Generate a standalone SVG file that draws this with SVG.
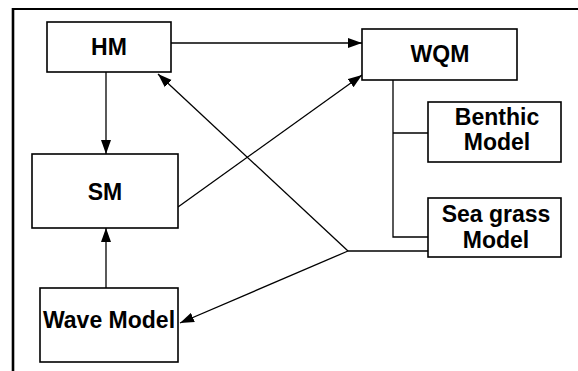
<svg xmlns="http://www.w3.org/2000/svg" width="578" height="371" viewBox="0 0 578 371">
<defs>
<style>
.box{fill:#fff;stroke:#000;stroke-width:1.6}
.lbl{font-family:"Liberation Sans",Arial,sans-serif;font-weight:bold;font-size:23px;fill:#000;text-anchor:middle}
.c{fill:none;stroke:#000;stroke-width:1.3}
.frame{fill:none;stroke:#000}
</style>
<marker id="ah" markerUnits="userSpaceOnUse" markerWidth="15" markerHeight="11" refX="14" refY="5.5" orient="auto">
<path d="M0,0.5 L14,5.5 L0,10.5 z" fill="#000"/>
</marker>
</defs>
<rect width="578" height="371" fill="#fff"/>
<line class="frame" x1="13" y1="9" x2="578" y2="9" stroke-width="2.2"/>
<line class="frame" x1="13" y1="8" x2="13" y2="371" stroke-width="2.6"/>
<g id="connectors">
<line class="c" x1="171" y1="43" x2="362" y2="43" marker-end="url(#ah)"/>
<line class="c" x1="106" y1="72" x2="106" y2="154" marker-end="url(#ah)"/>
<line class="c" x1="106" y1="288" x2="106" y2="228" marker-end="url(#ah)"/>
<line class="c" x1="178" y1="207" x2="362" y2="75" marker-end="url(#ah)"/>
<polyline class="c" points="428,251 348,251"/>
<line class="c" x1="348" y1="251" x2="158" y2="74" marker-end="url(#ah)"/>
<line class="c" x1="348" y1="251" x2="180" y2="323" marker-end="url(#ah)"/>
<polyline class="c" points="393,80 393,237 428,237"/>
<line class="c" x1="393" y1="133" x2="428" y2="133"/>
</g>
<g id="HM">
<rect class="box" x="47" y="22" width="124" height="50"/>
<text class="lbl" x="109" y="55">HM</text>
</g>
<g id="SM">
<rect class="box" x="32" y="154" width="146" height="74"/>
<text class="lbl" x="105" y="200">SM</text>
</g>
<g id="WaveModel">
<rect class="box" x="40" y="288" width="138" height="74"/>
<text class="lbl" x="109" y="328">Wave Model</text>
</g>
<g id="WQM">
<rect class="box" x="362" y="29" width="155" height="51"/>
<text class="lbl" x="440" y="62">WQM</text>
</g>
<g id="Benthic">
<rect class="box" x="428" y="102" width="133" height="60"/>
<text class="lbl" x="497" y="125">Benthic</text>
<text class="lbl" x="497" y="150">Model</text>
</g>
<g id="Seagrass">
<rect class="box" x="428" y="198" width="133" height="59"/>
<text class="lbl" x="496" y="222">Sea grass</text>
<text class="lbl" x="496" y="248">Model</text>
</g>
</svg>
